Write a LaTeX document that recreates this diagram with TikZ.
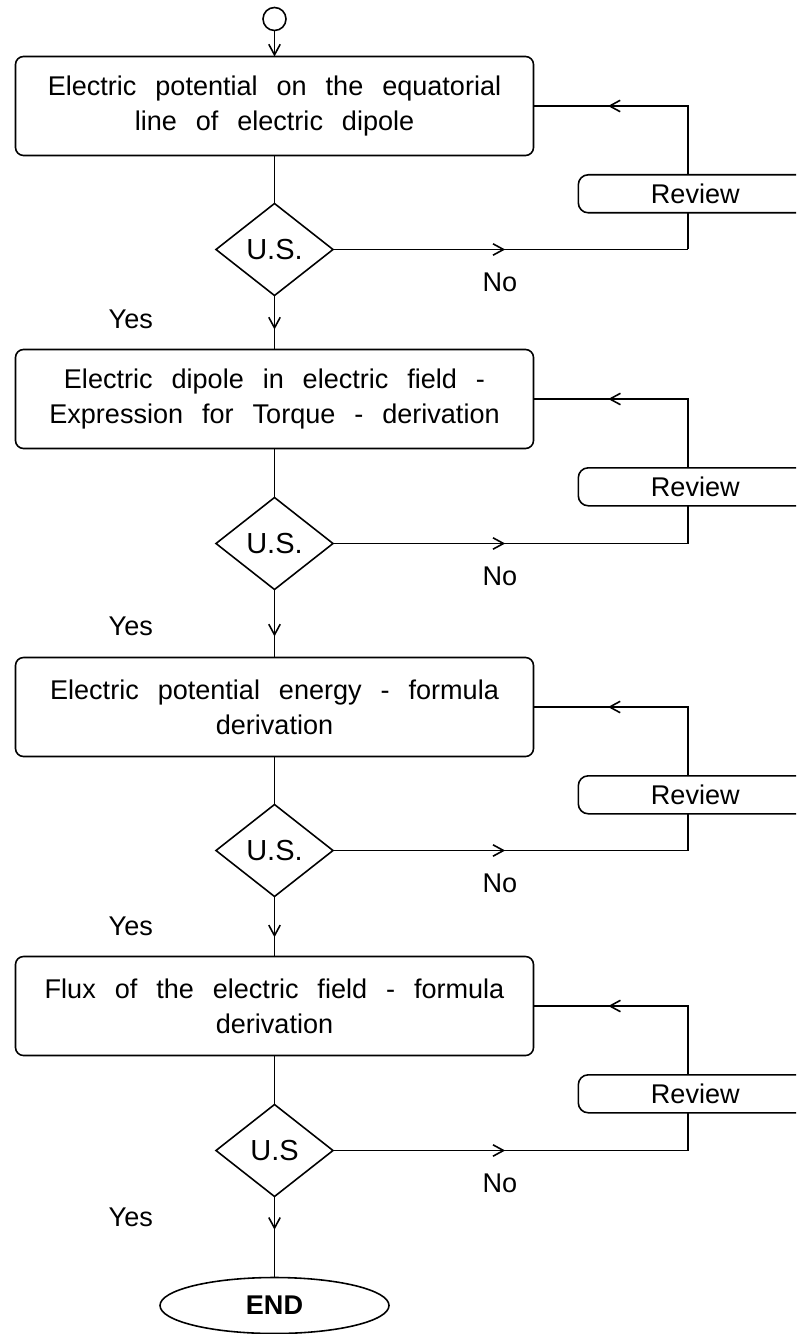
\documentclass[tikz,border=0pt]{standalone}
\usepackage{fontspec}
\setmainfont{Liberation Sans}
\usepackage{tikz}
\usetikzlibrary{shapes}
\usetikzlibrary{positioning}
\usetikzlibrary{arrows.meta}
\usetikzlibrary{decorations.markings}
\tikzstyle{barb}=[-{Straight Barb[length=6pt,width=6.5pt]}]
\tikzstyle{dot}=[draw,circle,minimum size=0.46cm,inner sep=0,outer sep=0]
\tikzstyle{stage}=[draw,rectangle,rounded corners=0.16cm,minimum width=10.36cm,minimum height=1.98cm,text width=9.96cm,inner xsep=0.2cm,outer sep=0,align=center,execute at begin node={\spaceskip=0.7em\relax}]
\tikzstyle{test}=[draw,diamond,minimum width=2.34cm,minimum height=1.84cm,inner sep=0,outer sep=0,font=\fontsize{16.5}{20}\selectfont]
\tikzstyle{review}=[draw,fill=white,rectangle,rounded corners=0.2cm,minimum width=4.68cm,minimum height=0.76cm]
\tikzstyle{terminal}=[draw,ellipse,minimum width=4.58cm,minimum height=1.12cm,outer sep=0,font=\fontsize{15.4}{19.9}\selectfont\bfseries]
\tikzset{arrow at/.style={postaction={decorate},decoration={markings,mark=at position #1 with {\arrow{Straight Barb[length=6pt,width=6.5pt]}}}}}

\begin{document}
\begin{tikzpicture}[font=\fontsize{15.4}{19.9}\selectfont,line width=0.9pt]
	\useasboundingbox (0,0) rectangle (15.92,-26.68);
	\clip (0,0) rectangle (15.92,-26.68);
	\node[dot] (start) at (5.49,-0.38) {};
	\node[stage,below=0.52cm of start] (s1) {Electric potential on the equatorial\\line of electric dipole};
	\node[test,below=0.96cm of s1] (t1) {U.S.};
	\node[stage,below=1.08cm of t1] (s2) {Electric dipole in electric field -\\Expression for Torque - derivation};
	\node[test,below=0.98cm of s2] (t2) {U.S.};
	\node[stage,below=1.36cm of t2] (s3) {Electric potential energy - formula\\derivation};
	\node[test,below=0.96cm of s3] (t3) {U.S.};
	\node[stage,below=1.2cm of t3] (s4) {Flux of the electric field - formula\\derivation};
	\node[test,below=0.98cm of s4] (t4) {U.S};
	\node[terminal,below=1.62cm of t4] (finish) {END};
	\coordinate[right=7.1cm of t1] (b1);
	\coordinate[right=7.1cm of t2] (b2);
	\coordinate[right=7.1cm of t3] (b3);
	\coordinate[right=7.1cm of t4] (b4);
	
	\draw[barb] (start) -- (s1);
	\draw (s1) -- (t1);
	\draw[arrow at=0.63] (t1) -- node[left=2.3cm,pos=0.44] (yes1) {Yes} (s2);
	\draw[arrow at=0.485] (t1) -- node[below=0.33cm,pos=0.47] (no1) {No} (b1);
	\draw[arrow at=0.75] (b1) |- (s1);
	\node[review,below right=1.36cm and 0.88cm of s1.east] (r1) {Review};
	
	\draw (s2) -- (t2);
	\draw[arrow at=0.69] (t2) -- node[left=2.3cm,pos=0.54] (yes2) {Yes} (s3);
	\draw[arrow at=0.485] (t2) -- node[below=0.33cm,pos=0.47] (no2) {No} (b2);
	\draw[arrow at=0.75] (b2) |- (s2);
	\node[review,below right=1.36cm and 0.88cm of s2.east] (r2) {Review};
	
	\draw (s3) -- (t3);
	\draw[arrow at=0.68] (t3) -- node[left=2.3cm,pos=0.5] (yes3) {Yes} (s4);
	\draw[arrow at=0.485] (t3) -- node[below=0.33cm,pos=0.47] (no3) {No} (b3);
	\draw[arrow at=0.75] (b3) |- (s3);
	\node[review,below right=1.36cm and 0.88cm of s3.east] (r3) {Review};
	
	\draw (s4) -- (t4);
	\draw[arrow at=0.41] (t4) -- node[left=2.3cm,pos=0.26] (yes4) {Yes} (finish);
	\draw[arrow at=0.485] (t4) -- node[below=0.33cm,pos=0.47] (no4) {No} (b4);
	\draw[arrow at=0.75] (b4) |- (s4);
	\node[review,below right=1.36cm and 0.88cm of s4.east] (r4) {Review};
\end{tikzpicture}
\end{document}
